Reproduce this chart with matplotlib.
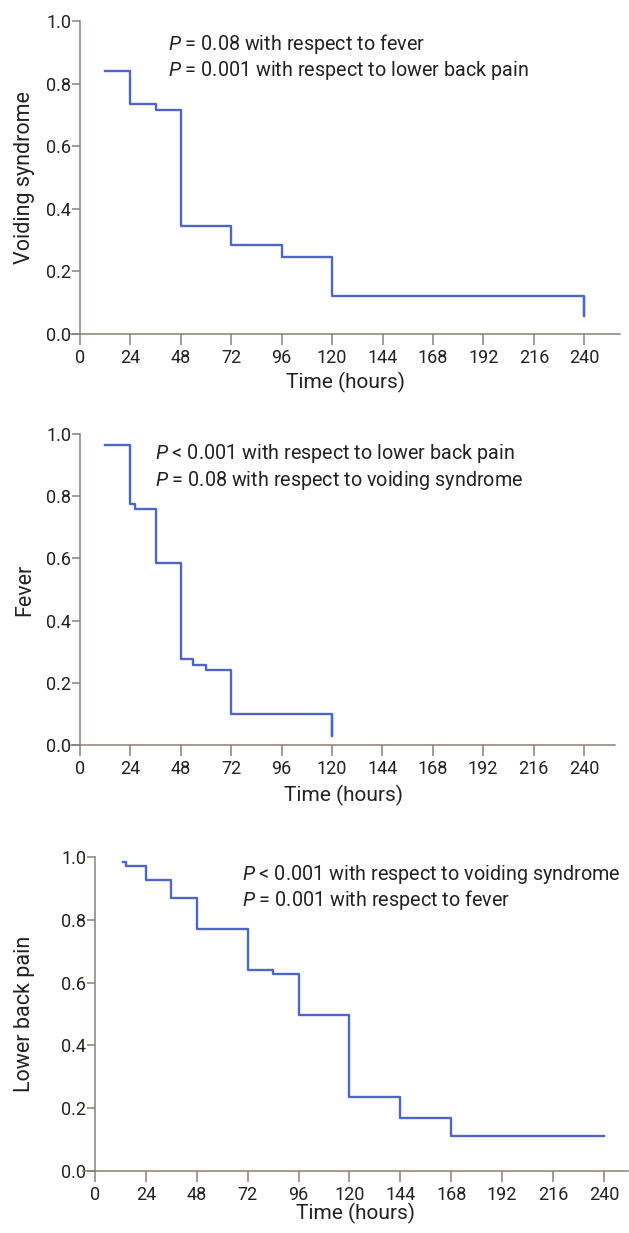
import matplotlib.pyplot as plt

# Kaplan-Meier style step curves (time in hours, proportion still symptomatic)
voiding_t = [12, 24, 36, 48, 72, 96, 120, 240]
voiding_s = [0.84, 0.735, 0.715, 0.345, 0.285, 0.245, 0.12, 0.057]

fever_t = [12, 24, 26, 36, 48, 54, 60, 72, 120]
fever_s = [0.966, 0.775, 0.76, 0.586, 0.275, 0.258, 0.24, 0.10, 0.03]

back_t = [13, 14.5, 24, 36, 48, 72, 84, 96, 120, 144, 168, 240]
back_s = [0.985, 0.97, 0.928, 0.871, 0.772, 0.641, 0.628, 0.497, 0.236, 0.168, 0.112, 0.112]

x_ticks = [0, 24, 48, 72, 96, 120, 144, 168, 192, 216, 240]
y_ticks = [0.0, 0.2, 0.4, 0.6, 0.8, 1.0]

ylabels = ['Voiding syndrome', 'Fever', 'Lower back pain']
notes = [
    ['= 0.08 with respect to fever', '= 0.001 with respect to lower back pain'],
    ['< 0.001 with respect to lower back pain', '= 0.08 with respect to voiding syndrome'],
    ['< 0.001 with respect to voiding syndrome', '= 0.001 with respect to fever'],
]

LINE = '#4f66c4'
AXIS = '#8a7f7f'
TXT = '#222222'
FONT = 'Roboto'

plt.rcParams['font.family'] = FONT
plt.rcParams['mathtext.fontset'] = 'custom'
plt.rcParams['mathtext.it'] = FONT + ':italic'
plt.rcParams['mathtext.rm'] = FONT

fig = plt.figure(figsize=(6.29, 12.33), dpi=100)
W, H = 629, 1233

# axes boxes in pixels: left, top(y=1.0), right, bottom(y=0), xmin, xmax
boxes = [
    (71, 21, 620, 334, -4.3, 257),
    (71, 434, 615, 745, -4.3, 254.8),
    (83, 857, 628, 1171, -5.7, 251.4),
]
# pixel position of the "P" of the first note line
note_pos = [(168, 44), (155, 454), (242, 874)]
xlab_y = [382, 795, 1213]
ylab_x = 25
curves = [(voiding_t, voiding_s), (fever_t, fever_s), (back_t, back_s)]

for i, (l, t, r, b, x0, x1) in enumerate(boxes):
    ax = fig.add_axes([l / W, 1 - b / H, (r - l) / W, (b - t) / H])
    ts, ss = curves[i]
    ax.step(ts, ss, where='post', color=LINE, lw=1.7)
    ax.vlines(ts[-1], ss[-1], ss[-2], color=LINE, lw=1.7)
    ax.set_xlim(x0, x1)
    ax.set_ylim(0, 1.0)
    ax.spines['left'].set_position(('data', 0))
    ax.spines['top'].set_visible(False)
    ax.spines['right'].set_visible(False)
    for s in ('left', 'bottom'):
        ax.spines[s].set_color(AXIS)
        ax.spines[s].set_linewidth(1.1)
    ax.set_xticks(x_ticks)
    ax.set_yticks(y_ticks)
    ax.set_yticklabels([f'{v:.1f}' for v in y_ticks])
    ax.tick_params(axis='x', direction='out', length=8, width=1.1, color=AXIS,
                   labelsize=13, pad=3, labelcolor=TXT)
    ax.tick_params(axis='y', direction='out', length=6, width=1.1, color=AXIS,
                   labelsize=13, pad=0.5, labelcolor=TXT)
    ax.set_xlabel('Time (hours)', fontsize=15, color=TXT)
    ax.xaxis.set_label_coords(0.5, -(xlab_y[i] - b) / (b - t), transform=ax.transAxes)
    ax.xaxis.label.set_va('center')
    ax.set_ylabel(ylabels[i], fontsize=15.5, color=TXT)
    ax.yaxis.set_label_coords((ylab_x - l) / (r - l), 0.5)
    ax.yaxis.label.set_va('center')
    nx, ny = note_pos[i]
    for k, line in enumerate(notes[i]):
        fig.text(nx / W, 1 - (ny + k * 26.5) / H, r'$\it{P}$ ' + line,
                 fontsize=14.2, va='center', ha='left', color=TXT)

fig.savefig('out.png', dpi=100)
